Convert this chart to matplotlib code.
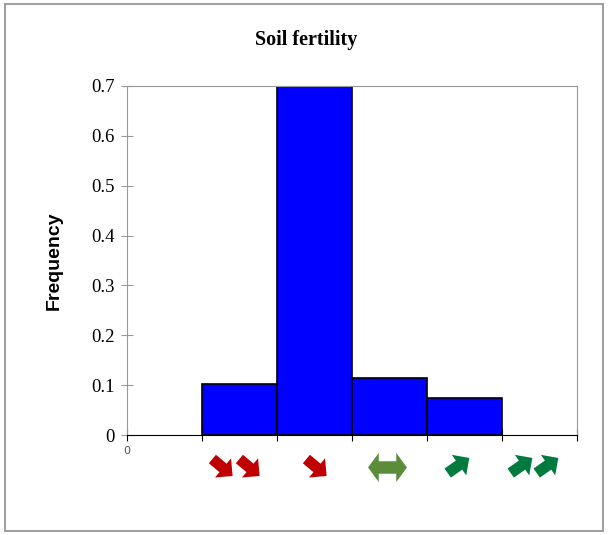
import matplotlib.pyplot as plt
import matplotlib.patches as mpatches
from matplotlib.path import Path
from matplotlib.markers import MarkerStyle
from matplotlib.transforms import Affine2D

# data
bin_left = [1, 2, 3, 4]
freq = [0.102, 0.72, 0.114, 0.074]
yticks = [0, 0.1, 0.2, 0.3, 0.4, 0.5, 0.6, 0.7]
# trend arrows under the bins: (x position, kind)
arrow_x = [1.27, 1.63, 2.52, 3.47, 4.41, 5.25, 5.6]
arrow_kind = ['down', 'down', 'down', 'both', 'up', 'up', 'up']
arrow_col = {'down': '#C00000', 'both': '#5B8C3A', 'up': '#007A3D'}

# block arrow shapes pointing right
single = Path([(-1, -0.42), (0.05, -0.42), (0.05, -0.95), (1, 0), (0.05, 0.95),
               (0.05, 0.42), (-1, 0.42), (-1, -0.42)], closed=True)
double = Path([(-1, 0), (-0.45, -0.75), (-0.45, -0.32), (0.45, -0.32), (0.45, -0.75), (1, 0),
               (0.45, 0.75), (0.45, 0.32), (-0.45, 0.32), (-0.45, 0.75), (-1, 0)], closed=True)

fig = plt.figure(figsize=(6.08, 5.35), dpi=100)
fig.patches.append(mpatches.Rectangle((5/608, 4/535), 598/608, 527/535, transform=fig.transFigure,
                                      fill=False, edgecolor='#a0a0a0', lw=1.5))
ax = fig.add_axes([127/608, 1-435/535, 450/608, 349/535])

ax.bar(bin_left, freq, width=1, align='edge', color='#0000FF', edgecolor='black', lw=1.2)
ax.set_xlim(0, 6)
ax.set_ylim(0, 0.7)

for s in ['top', 'right', 'left']:
    ax.spines[s].set_color('#999999')
ax.spines['bottom'].set_color('black')
ax.spines['bottom'].set_zorder(5)

ax.set_yticks(yticks)
ax.set_yticklabels(['0'] + ['%.1f' % v for v in yticks[1:]], fontfamily='Liberation Serif', fontsize=13.5)
ax.tick_params(axis='y', direction='inout', length=8, color='#999999', pad=5)
ax.set_xticks(range(7))
ax.set_xticklabels(['0'] + [''] * 6, fontfamily='DejaVu Sans', fontsize=8, color='#555555')
ax.tick_params(axis='x', direction='inout', length=8, color='black', pad=4)

for x, k in zip(arrow_x, arrow_kind):
    if k == 'both':
        m = MarkerStyle(double)
        size = 28
    else:
        rot = -40 if k == 'down' else 35
        m = MarkerStyle(single, transform=Affine2D().rotate_deg(rot))
        size = 19
    ax.plot([x], [-0.064 if k != 'up' else -0.06], marker=m, markersize=size, color=arrow_col[k],
            markeredgewidth=0, linestyle='none', clip_on=False)

ax.set_ylabel('Frequency', fontfamily='Liberation Sans', fontweight='bold', fontsize=14, labelpad=20)
fig.text(306/608, 1-40/535, 'Soil fertility', ha='center', va='center',
         fontfamily='Liberation Serif', fontweight='bold', fontsize=14.5)

fig.savefig('out.png', dpi=100)
